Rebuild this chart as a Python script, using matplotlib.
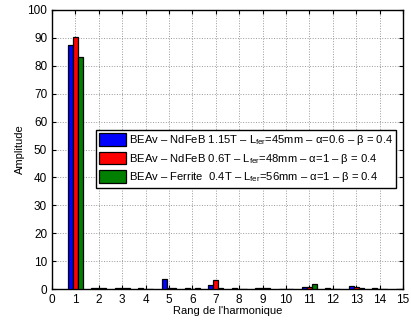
import matplotlib
matplotlib.use("Agg")
import matplotlib.pyplot as plt
import numpy as np

plt.rcParams['font.family'] = ['Liberation Sans', 'DejaVu Sans']
plt.rcParams['mathtext.fontset'] = 'custom'
plt.rcParams['mathtext.rm'] = 'Liberation Sans'
plt.rcParams['mathtext.it'] = 'Liberation Sans'

harmonics = list(range(1, 16))
blue_vals = [87.5, 0.3, 0.2, 0.2, 3.5, 0.2, 1.5, 0.2, 0.3, 0.1, 0.7, 0.3, 1.1, 0.2, 0.1]
red_vals = [90.5, 0.3, 0.2, 0.1, 0.3, 0.1, 3.2, 0.1, 0.3, 0.1, 0.7, 0.1, 0.8, 0.1, 0.0]
green_vals = [83.3, 0.3, 0.2, 0.1, 0.2, 0.2, 0.3, 0.1, 0.3, 0.1, 1.8, 0.1, 0.2, 0.1, 0.1]
labels = [
    r'BEAv – NdFeB 1.15T – L$_{\mathrm{fer}}$=45mm – α=0.6 – β = 0.4',
    r'BEAv – NdFeB 0.6T – L$_{\mathrm{fer}}$=48mm – α=1 – β = 0.4',
    r'BEAv – Ferrite  0.4T – L$_{\mathrm{fer}}$=56mm – α=1 – β = 0.4',
]
colors = ['#0000ff', '#ff0000', '#007f00']

fig = plt.figure(figsize=(4.11, 3.22), dpi=100)
ax = fig.add_axes([52/411, 1-289/322, 351/411, 279/322])
x = np.array(harmonics)
w = 0.21
for i, (vals, c, lab) in enumerate(zip([blue_vals, red_vals, green_vals], colors, labels)):
    ax.bar(x + (i-1)*w, vals, width=w, color=c, edgecolor='black', linewidth=0.9, label=lab, zorder=3)

ax.set_xlim(0, 15)
ax.set_ylim(0, 100)
ax.set_xticks(range(0, 16))
ax.set_yticks(range(0, 101, 10))
ax.grid(True, linestyle=':', color='#999999', linewidth=0.7, zorder=0)
ax.tick_params(direction='in', labelsize=8.5, top=True, right=True, length=3)
for s in ax.spines.values():
    s.set_linewidth(1.0)
ax.set_xlabel("Rang de l'harmonique", fontsize=8, labelpad=0)
ax.set_ylabel('Amplitude', fontsize=8, labelpad=2)

leg = ax.legend(loc='upper left', bbox_to_anchor=(0.125, 0.571), fontsize=8.1,
                handlelength=2.4, handleheight=1.35, handletextpad=0.25,
                borderpad=0.3, labelspacing=0.4, fancybox=False, framealpha=1,
                edgecolor='black', borderaxespad=0)
leg.get_frame().set_linewidth(1.0)

fig.savefig('out.png', dpi=100)
